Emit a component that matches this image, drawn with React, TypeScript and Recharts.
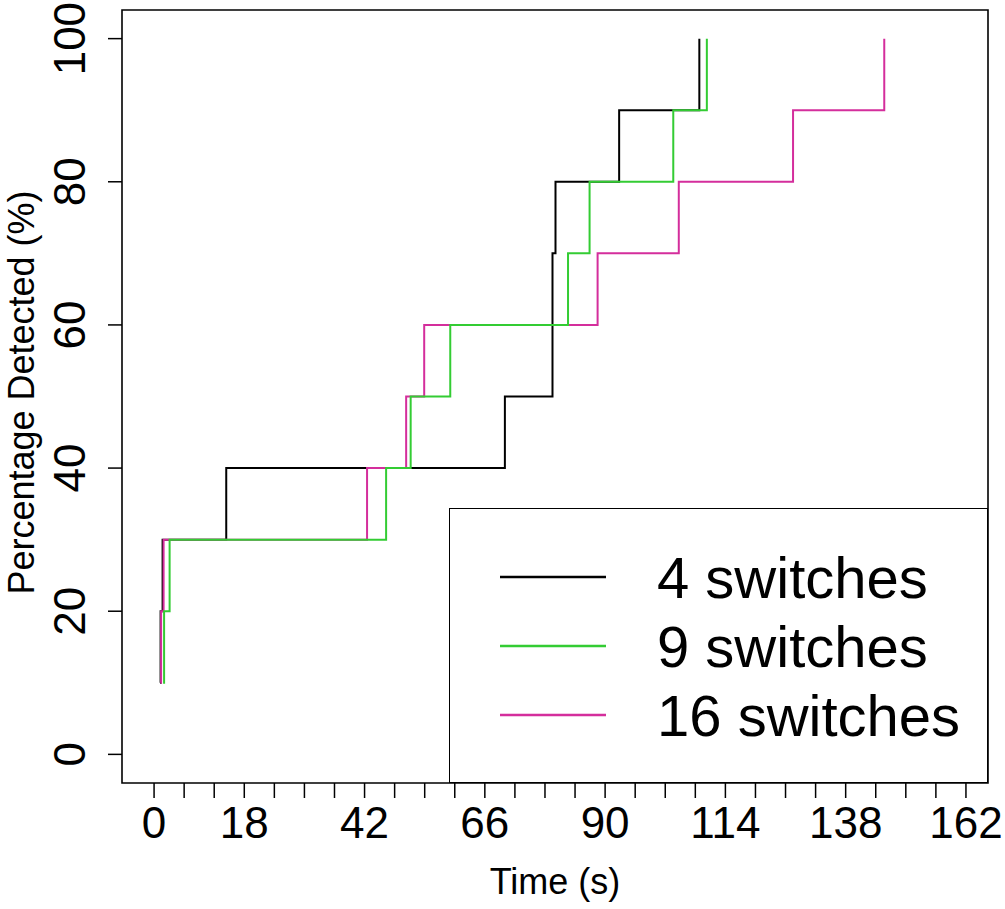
import React from "react";
import { LineChart, Line, XAxis, YAxis, ReferenceArea, Legend } from "recharts";

// Cumulative share of faults detected (%), one step per detection
const percentDetected = [10, 20, 30, 40, 50, 60, 70, 80, 90, 100];

// Detection times (s) for each topology size
const times4 = [1.2, 1.3, 1.7, 14.4, 70.0, 79.5, 79.5, 80.1, 92.8, 108.8];
const times9 = [1.8, 2.0, 3.1, 46.3, 51.2, 59.1, 82.6, 86.9, 103.6, 110.3];
const times16 = [1.3, 1.4, 1.9, 42.5, 50.3, 53.9, 88.5, 104.7, 127.5, 145.7];

const seriesNames = ["4 switches", "9 switches", "16 switches"];
const seriesColors = ["#000000", "#33CC33", "#D42E9C"];

const xTicks = [0, 6, 12, 18, 24, 30, 36, 42, 48, 54, 60, 66, 72, 78, 84, 90, 96, 102, 108, 114, 120, 126, 132, 138, 144, 150, 156, 162];
const xLabelled = [0, 18, 42, 66, 90, 114, 138, 162];
const yTicks = [0, 20, 40, 60, 80, 100];

const X_DOMAIN: [number, number] = [-6.4, 166.4];
const Y_DOMAIN: [number, number] = [-4, 104];

const FONT = '"Liberation Sans", Arial, Helvetica, sans-serif';

const toPoints = (times: number[]) =>
  times.map((t, i) => ({ t, pct: percentDetected[i] }));

const data4 = toPoints(times4);
const data9 = toPoints(times9);
const data16 = toPoints(times16);

const XTick = (props: any) => {
  const { x, y, payload } = props;
  if (!xLabelled.includes(payload.value)) return null;
  return (
    <text x={x} y={y + 38} textAnchor="middle" fontSize={44} fontFamily={FONT} fill="#000">
      {payload.value}
    </text>
  );
};

const YTick = (props: any) => {
  const { x, y, payload } = props;
  const bx = x - 21;
  return (
    <text
      transform={`translate(${bx},${y}) rotate(-90)`}
      textAnchor="middle"
      fontSize={44}
      fontFamily={FONT}
      fill="#000"
    >
      {payload.value}
    </text>
  );
};

const XTitle = (props: any) => {
  const vb = props.viewBox || {};
  return (
    <text
      x={vb.x + vb.width / 2}
      y={vb.y + 111}
      textAnchor="middle"
      fontSize={36}
      fontFamily={FONT}
      fill="#000"
    >
      Time (s)
    </text>
  );
};

const YTitle = (props: any) => {
  const vb = props.viewBox || {};
  const cx = vb.x + 34;
  const cy = vb.y + vb.height / 2 - 4;
  return (
    <text
      transform={`translate(${cx},${cy}) rotate(-90)`}
      textAnchor="middle"
      fontSize={36}
      fontFamily={FONT}
      fill="#000"
    >
      Percentage Detected (%)
    </text>
  );
};

const LegendBox = () => (
  <div
    style={{
      width: 539,
      height: 275,
      boxSizing: "border-box",
      border: "1.5px solid #000",
      background: "#fff",
    }}
  >
    <svg width={536} height={272} style={{ display: "block" }}>
      {seriesNames.map((name, i) => {
        const ly = 68 + i * 69;
        return (
          <g key={name}>
            <line x1={50} x2={156} y1={ly} y2={ly} stroke={seriesColors[i]} strokeWidth={2.6} />
            <text x={207} y={ly + 21} fontSize={58} fontFamily={FONT} fill="#000">
              {name}
            </text>
          </g>
        );
      })}
    </svg>
  </div>
);

export default function App() {
  return (
    <div style={{ position: "absolute", left: 0, top: 0, width: 1005, height: 909, background: "#fff" }}>
      <LineChart
        width={1005}
        height={909}
        margin={{ top: 10, right: 17, bottom: 0, left: 0 }}
        style={{ fontFamily: FONT }}
      >
        <XAxis
          type="number"
          dataKey="t"
          domain={X_DOMAIN}
          ticks={xTicks}
          interval={0}
          allowDataOverflow
          height={126}
          axisLine={false}
          tickSize={15}
          tickLine={{ stroke: "#000", strokeWidth: 1.5 }}
          tick={<XTick />}
          label={<XTitle />}
        />
        <YAxis
          type="number"
          dataKey="pct"
          domain={Y_DOMAIN}
          ticks={yTicks}
          interval={0}
          allowDataOverflow
          width={122}
          axisLine={false}
          tickSize={14}
          tickLine={{ stroke: "#000", strokeWidth: 1.5 }}
          tick={<YTick />}
          label={<YTitle />}
        />
        <ReferenceArea
          x1={X_DOMAIN[0]}
          x2={X_DOMAIN[1]}
          y1={Y_DOMAIN[0]}
          y2={Y_DOMAIN[1]}
          fill="none"
          stroke="#000"
          strokeWidth={1.6}
          ifOverflow="visible"
        />
        <Line
          data={data4}
          dataKey="pct"
          type="stepAfter"
          stroke={seriesColors[0]}
          strokeWidth={2}
          dot={false}
          isAnimationActive={false}
          name={seriesNames[0]}
        />
        <Line
          data={data16}
          dataKey="pct"
          type="stepAfter"
          stroke={seriesColors[2]}
          strokeWidth={2}
          dot={false}
          isAnimationActive={false}
          name={seriesNames[2]}
        />
        <Line
          data={data9}
          dataKey="pct"
          type="stepAfter"
          stroke={seriesColors[1]}
          strokeWidth={2}
          dot={false}
          isAnimationActive={false}
          name={seriesNames[1]}
        />
        <Legend
          layout="horizontal"
          verticalAlign="middle"
          align="center"
          content={<LegendBox />}
          wrapperStyle={{ position: "absolute", left: 449, top: 508, width: 539, height: 275 }}
        />
      </LineChart>
    </div>
  );
}
